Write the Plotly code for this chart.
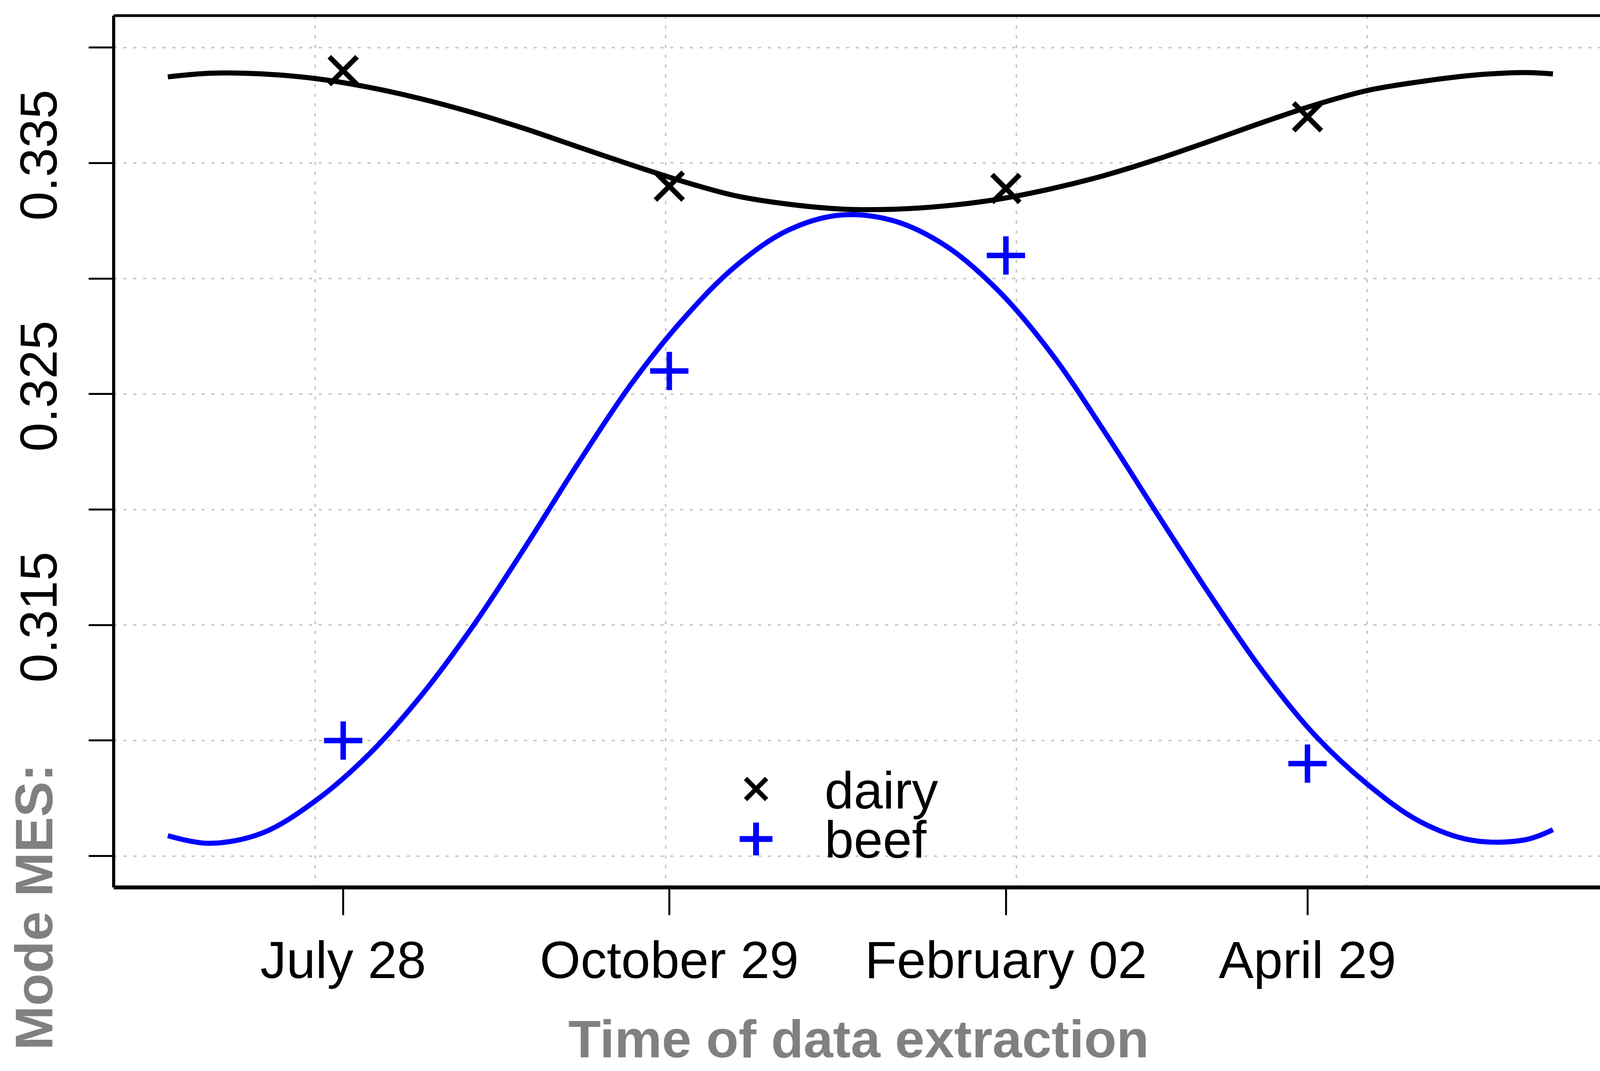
import plotly.graph_objects as go

# ---------------- data ----------------
# x positions are day numbers on a continuous time axis (gridlines fall on 200, 300, 400, 500)
sample_days = [208, 301, 397, 483]
sample_labels = ["July 28", "October 29", "February 02", "April 29"]

dairy_points = [0.3390, 0.3340, 0.3339, 0.3370]
beef_points = [0.3100, 0.3260, 0.3310, 0.3090]

curve_days = [158, 170, 185, 200, 215, 230, 245, 260, 275, 290, 305, 320, 335, 350,
              365, 380, 395, 410, 425, 440, 455, 470, 485, 500, 515, 530, 545, 553]
dairy_curve = [0.33873, 0.33889, 0.33886, 0.33866, 0.33829, 0.33779, 0.33718, 0.33648,
               0.33570, 0.33493, 0.33420, 0.33358, 0.33322, 0.33301, 0.33300, 0.33315,
               0.33344, 0.33389, 0.33446, 0.33516, 0.33594, 0.33675, 0.33751, 0.33814,
               0.33852, 0.33880, 0.33892, 0.33886]
beef_curve = [0.30588, 0.30555, 0.30600, 0.30738, 0.30935, 0.31190, 0.31495, 0.31840,
              0.32200, 0.32540, 0.32825, 0.33055, 0.33210, 0.33275, 0.33250, 0.33140,
              0.32945, 0.32675, 0.32340, 0.31985, 0.31635, 0.31305, 0.31025, 0.30812,
              0.30650, 0.30568, 0.30570, 0.30614]

y_tickvals = [0.305, 0.310, 0.315, 0.320, 0.325, 0.330, 0.335, 0.340]
y_ticktext = ["", "", "0.315", "", "0.325", "", "0.335", ""]
x_gridvals = [200, 300, 400, 500]

series_names = ["dairy", "beef"]

# ---------------- style / layout ----------------
# the browser viewport is 4096 x 2742 CSS px
W, H = 4096, 2742
ML, MT, MB, MR = 291, 40, 470, 0
X_RANGE = [142.55, 566.42]
Y_RANGE = [0.303641, 0.341383]
FONT = "Liberation Sans, Arial, sans-serif"
TICK_FONT = 134
TITLE_FONT = 136
GRID = dict(color="#c8c8c8", width=4, dash="8px,17px")

fig = go.Figure()

fig.add_trace(go.Scatter(x=curve_days, y=dairy_curve, mode="lines",
                         line=dict(color="black", width=13, shape="spline", smoothing=1),
                         showlegend=False, hoverinfo="skip"))
fig.add_trace(go.Scatter(x=curve_days, y=beef_curve, mode="lines",
                         line=dict(color="#0000ff", width=13, shape="spline", smoothing=1),
                         showlegend=False, hoverinfo="skip"))
fig.add_trace(go.Scatter(x=sample_days, y=dairy_points, mode="markers", name=series_names[0],
                         marker=dict(symbol="x-thin", size=71, color="black",
                                     line=dict(color="black", width=13)),
                         showlegend=False))
fig.add_trace(go.Scatter(x=sample_days, y=beef_points, mode="markers", name=series_names[1],
                         marker=dict(symbol="cross-thin", size=70, color="#0000ff",
                                     line=dict(color="#0000ff", width=14)),
                         showlegend=False))

# legend keys drawn on an overlay axis in plot-fraction units
LEG_X = 0.4322
LEG_Y = [0.1129, 0.0556]
LEG_TEXT_X = 0.4777
LEG_TEXT_Y = [0.1113, 0.0549]
fig.add_trace(go.Scatter(x=[LEG_X], y=[LEG_Y[0]], xaxis="x2", yaxis="y2", mode="markers",
                         marker=dict(symbol="x-thin", size=54, color="black",
                                     line=dict(color="black", width=12)),
                         showlegend=False, hoverinfo="skip"))
fig.add_trace(go.Scatter(x=[LEG_X], y=[LEG_Y[1]], xaxis="x2", yaxis="y2", mode="markers",
                         marker=dict(symbol="cross-thin", size=60, color="#0000ff",
                                     line=dict(color="#0000ff", width=15)),
                         showlegend=False, hoverinfo="skip"))

annotations = []
for name, ty in zip(series_names, LEG_TEXT_Y):
    annotations.append(dict(text=name, x=LEG_TEXT_X, y=ty, xref="paper", yref="paper",
                            xanchor="left", yanchor="middle", showarrow=False,
                            font=dict(family=FONT, size=TICK_FONT, color="black")))
annotations.append(dict(text="Time of data extraction", x=0.5013, y=-0.1738,
                        xref="paper", yref="paper", xanchor="center", yanchor="middle",
                        showarrow=False,
                        font=dict(family=FONT, size=TITLE_FONT, color="#808080", weight="bold")))
annotations.append(dict(text="Mode MES:", x=-0.0535, y=-0.0224, textangle=-90,
                        xref="paper", yref="paper", xanchor="center", yanchor="middle",
                        showarrow=False,
                        font=dict(family=FONT, size=TITLE_FONT, color="#808080", weight="bold")))

shapes = [
    dict(type="line", xref="paper", yref="paper", x0=0, x1=0, y0=0, y1=1,
         line=dict(color="black", width=8), layer="above"),
    dict(type="line", xref="paper", yref="paper", x0=0, x1=1, y0=0, y1=0,
         line=dict(color="black", width=10), layer="above"),
    dict(type="line", xref="paper", yref="paper", x0=0, x1=1, y0=1, y1=1,
         line=dict(color="black", width=7), layer="above"),
]

fig.update_layout(
    width=W, height=H,
    margin=dict(l=ML, r=MR, t=MT, b=MB, pad=0),
    paper_bgcolor="white", plot_bgcolor="white",
    font=dict(family=FONT, size=TICK_FONT, color="black"),
    showlegend=False,
    annotations=annotations,
    shapes=shapes,
    xaxis=dict(range=X_RANGE, tickmode="array", tickvals=sample_days, ticktext=sample_labels,
               ticks="outside", ticklen=70, tickwidth=5, tickcolor="black",
               tickfont=dict(family=FONT, size=TICK_FONT, color="black"),
               showgrid=False, zeroline=False, showline=False,
               minor=dict(tickmode="array", tickvals=x_gridvals, showgrid=True,
                          gridcolor=GRID["color"], gridwidth=GRID["width"],
                          griddash=GRID["dash"], ticks="")),
    yaxis=dict(range=Y_RANGE, tickmode="array", tickvals=y_tickvals, ticktext=y_ticktext,
               tickangle=-90, ticks="outside", ticklen=63, tickwidth=5, tickcolor="black",
               ticklabelstandoff=28,
               tickfont=dict(family=FONT, size=TICK_FONT, color="black"),
               showgrid=True, gridcolor=GRID["color"], gridwidth=GRID["width"],
               griddash=GRID["dash"], zeroline=False, showline=False),
    xaxis2=dict(range=[0, 1], overlaying="x", visible=False),
    yaxis2=dict(range=[0, 1], overlaying="y", visible=False),
)

# stretch the figure to the real viewport if it differs from W x H
POST = """
(function(){
  var gd = document.getElementById('{plot_id}');
  document.documentElement.style.margin = '0';
  document.body.style.margin = '0';
  document.documentElement.style.overflow = 'hidden';
  document.body.style.overflow = 'hidden';
  var vw = window.innerWidth, vh = window.innerHeight;
  var sx = vw / 4096, sy = vh / 2742;
  if (Math.abs(sx - 1) > 0.002 || Math.abs(sy - 1) > 0.002) {
    gd.style.transformOrigin = '0 0';
    gd.style.transform = 'scale(' + sx + ',' + sy + ')';
    var p = gd.parentElement;
    p.style.width = vw + 'px'; p.style.height = vh + 'px'; p.style.overflow = 'hidden';
  }
})();
"""

fig.write_html("out.html", post_script=POST, config={"displayModeBar": False})
